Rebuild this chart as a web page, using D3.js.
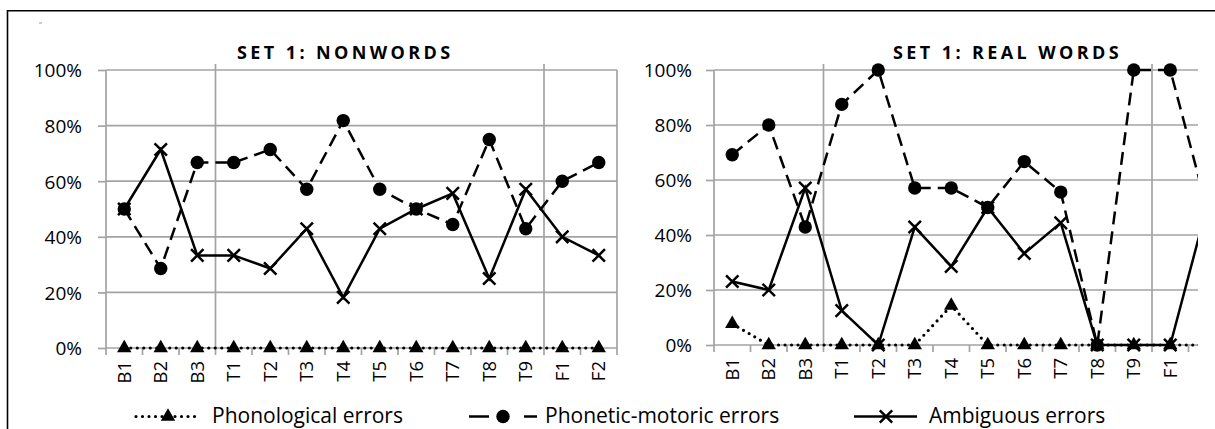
<!DOCTYPE html>
<html>
<head>
<meta charset="utf-8">
<script src="https://cdn.jsdelivr.net/npm/d3@7"></script>
<style>
  html, body { margin: 0; padding: 0; background: #fff; }
  svg { display: block; }
  text { font-family: "Open Sans", "DejaVu Sans", sans-serif; fill: #000; }
</style>
</head>
<body>
<svg id="chart" width="1215" height="429"></svg>
<script>
// ---------- DATA ----------
const categories = ["B1","B2","B3","T1","T2","T3","T4","T5","T6","T7","T8","T9","F1","F2"];
const yTicks = [0, 0.2, 0.4, 0.6, 0.8, 1.0];
const seriesNames = ["Phonological errors", "Phonetic-motoric errors", "Ambiguous errors"];
const panelTitles = ["SET 1: NONWORDS", "SET 1: REAL WORDS"];

// Set 1: nonwords
const nonwordsPhonological = [0, 0, 0, 0, 0, 0, 0, 0, 0, 0, 0, 0, 0, 0];
const nonwordsPhonetic     = [0.50, 0.286, 0.667, 0.667, 0.714, 0.571, 0.818, 0.571, 0.50, 0.444, 0.75, 0.429, 0.60, 0.667];
const nonwordsAmbiguous    = [0.50, 0.714, 0.333, 0.333, 0.286, 0.429, 0.182, 0.429, 0.50, 0.556, 0.25, 0.571, 0.40, 0.333];

// Set 1: real words
const realPhonological = [0.077, 0, 0, 0, 0, 0, 0.143, 0, 0, 0, 0, 0, 0, 0];
const realPhonetic     = [0.692, 0.80, 0.429, 0.875, 1.0, 0.571, 0.571, 0.50, 0.667, 0.556, 0, 1.0, 1.0, 0.50];
const realAmbiguous    = [0.231, 0.20, 0.571, 0.125, 0, 0.429, 0.286, 0.50, 0.333, 0.444, 0, 0, 0, 0.50];

// group boundaries (vertical gridlines after these category indices)
const groupBreaks = [3, 12];

// ---------- DRAW ----------
const svg = d3.select("#chart");
const GRID = "#a3a3a3";
const CLIP_X = 1198;
const LW = 2.5;

// outer frame
svg.append("path")
  .attr("d", "M7.5,429 L7.5,10.7 L1215,10.7")
  .attr("fill", "none").attr("stroke", "#000").attr("stroke-width", 1.6);
svg.append("line").attr("x1", 39).attr("x2", 42).attr("y1", 23).attr("y2", 23)
  .attr("stroke", "#999").attr("stroke-width", 1);

const defs = svg.append("defs");
defs.append("clipPath").attr("id", "clipRight")
  .append("rect").attr("x", 0).attr("y", 0).attr("width", CLIP_X).attr("height", 429);

function xMarkPath(s) {
  return `M${-s},${-s}L${s},${s}M${-s},${s}L${s},${-s}`;
}

function drawPanel(opts) {
  const g = svg.append("g");
  if (opts.clip) g.attr("clip-path", "url(#clipRight)");

  const x = d3.scaleBand().domain(categories).range([opts.left, opts.left + 511]).padding(0);
  const y = d3.scaleLinear().domain([0, 1]).range([opts.bottom, 70]);
  const cx = d => x(d) + x.bandwidth() / 2;
  const right = opts.left + 511;
  const visible = d => !opts.clip || cx(d) + 6 < CLIP_X;

  // horizontal gridlines
  g.append("g").selectAll("line").data(yTicks).join("line")
    .attr("x1", opts.left).attr("x2", right)
    .attr("y1", d => y(d)).attr("y2", d => y(d))
    .attr("stroke", GRID).attr("stroke-width", 1.7);

  // y axis (labels + outward ticks)
  const yAxis = d3.axisLeft(y).tickValues(yTicks).tickFormat(d3.format(".0%"))
    .tickSize(8).tickPadding(opts.ypad).tickSizeOuter(0);
  const ya = g.append("g").attr("transform", `translate(${opts.left},0)`).call(yAxis);
  ya.select(".domain").remove();
  ya.selectAll(".tick line").attr("stroke", GRID).attr("stroke-width", 1.7);
  ya.selectAll(".tick text").attr("font-size", 19).attr("font-family", "Open Sans").attr("dy", "0.36em").attr("fill", "#000");

  // boundaries: tick marks below axis; axis line & group lines
  const bounds = d3.range(categories.length + 1).map(i => opts.left + i * x.bandwidth());
  g.append("g").selectAll("line").data(bounds).join("line")
    .attr("x1", d => d).attr("x2", d => d)
    .attr("y1", y(0)).attr("y2", y(0) + 7)
    .attr("stroke", GRID).attr("stroke-width", 1.7);
  g.append("line").attr("x1", opts.left).attr("x2", opts.left)
    .attr("y1", y(1)).attr("y2", y(0)).attr("stroke", GRID).attr("stroke-width", 1.7);
  g.append("line").attr("x1", right).attr("x2", right)
    .attr("y1", y(1)).attr("y2", y(0)).attr("stroke", GRID).attr("stroke-width", 1.7);
  g.append("g").selectAll("line").data(groupBreaks).join("line")
    .attr("x1", d => bounds[d]).attr("x2", d => bounds[d])
    .attr("y1", y(1) - 6).attr("y2", y(0))
    .attr("stroke", GRID).attr("stroke-width", 1.7);

  // x labels rotated
  g.append("g").selectAll("text").data(categories.filter(visible)).join("text")
    .attr("transform", d => `translate(${cx(d)},${y(0) + 13}) rotate(-90)`)
    .attr("text-anchor", "end").attr("dy", "0.36em")
    .attr("font-size", 18.5)
    .text(d => d);

  // title
  g.append("text").attr("x", opts.titleX).attr("y", 59)
    .attr("font-size", 18).attr("font-weight", "bold").attr("letter-spacing", "3.4px")
    .text(opts.title);

  const line = d3.line().x((d, i) => cx(categories[i])).y(d => y(d));

  // phonological (dotted, triangles)
  g.append("path").datum(opts.phon).attr("d", line)
    .attr("fill", "none").attr("stroke", "#000").attr("stroke-width", 3.2)
    .attr("stroke-linecap", "round").attr("stroke-dasharray", "0,6.5");
  g.append("g").selectAll("path").data(opts.phon).join("path")
    .attr("transform", (d, i) => `translate(${cx(categories[i])},${y(d)})`)
    .attr("d", d3.symbol(d3.symbolTriangle, 90)).attr("fill", "#000");

  // phonetic-motoric (dashed, circles)
  g.append("path").datum(opts.phonetic).attr("d", line)
    .attr("fill", "none").attr("stroke", "#000").attr("stroke-width", LW)
    .attr("stroke-dasharray", "13,7");
  g.append("g").selectAll("circle").data(opts.phonetic).join("circle")
    .attr("cx", (d, i) => cx(categories[i])).attr("cy", d => y(d))
    .attr("r", 6.7).attr("fill", "#000");

  // ambiguous (solid, X)
  g.append("path").datum(opts.amb).attr("d", line)
    .attr("fill", "none").attr("stroke", "#000").attr("stroke-width", LW);
  g.append("g").selectAll("path").data(opts.amb).join("path")
    .attr("transform", (d, i) => `translate(${cx(categories[i])},${y(d)})`)
    .attr("d", xMarkPath(6.2)).attr("fill", "none").attr("stroke", "#000").attr("stroke-width", LW);
}

drawPanel({ left: 106, bottom: 348, ypad: 16, titleX: 237, title: panelTitles[0],
  phon: nonwordsPhonological, phonetic: nonwordsPhonetic, amb: nonwordsAmbiguous, clip: false });
drawPanel({ left: 714, bottom: 345, ypad: 14, titleX: 893, title: panelTitles[1],
  phon: realPhonological, phonetic: realPhonetic, amb: realAmbiguous, clip: true });

// ---------- LEGEND ----------
const legendY = 416.5;
const ty = legendY + 6.5;
const FS = 21;
const lg = svg.append("g");
// phonological
lg.append("line").attr("x1", 136).attr("x2", 200).attr("y1", legendY).attr("y2", legendY)
  .attr("stroke", "#000").attr("stroke-width", 3.2).attr("stroke-linecap", "round").attr("stroke-dasharray", "0,6.5");
lg.append("path").attr("transform", `translate(168,${legendY})`)
  .attr("d", d3.symbol(d3.symbolTriangle, 90)).attr("fill", "#000");
lg.append("text").attr("x", 212).attr("y", ty).attr("font-size", FS).text(seriesNames[0]);
// phonetic
lg.append("line").attr("x1", 469).attr("x2", 489).attr("y1", legendY).attr("y2", legendY)
  .attr("stroke", "#000").attr("stroke-width", LW);
lg.append("line").attr("x1", 524).attr("x2", 537).attr("y1", legendY).attr("y2", legendY)
  .attr("stroke", "#000").attr("stroke-width", LW);
lg.append("circle").attr("cx", 503).attr("cy", legendY).attr("r", 6.7).attr("fill", "#000");
lg.append("text").attr("x", 545).attr("y", ty).attr("font-size", FS).text(seriesNames[1]);
// ambiguous
lg.append("line").attr("x1", 854).attr("x2", 917).attr("y1", legendY).attr("y2", legendY)
  .attr("stroke", "#000").attr("stroke-width", LW);
lg.append("path").attr("transform", `translate(886,${legendY})`)
  .attr("d", xMarkPath(6.2)).attr("fill", "none").attr("stroke", "#000").attr("stroke-width", LW);
lg.append("text").attr("x", 929).attr("y", ty).attr("font-size", FS).text(seriesNames[2]);
</script>
</body>
</html>
